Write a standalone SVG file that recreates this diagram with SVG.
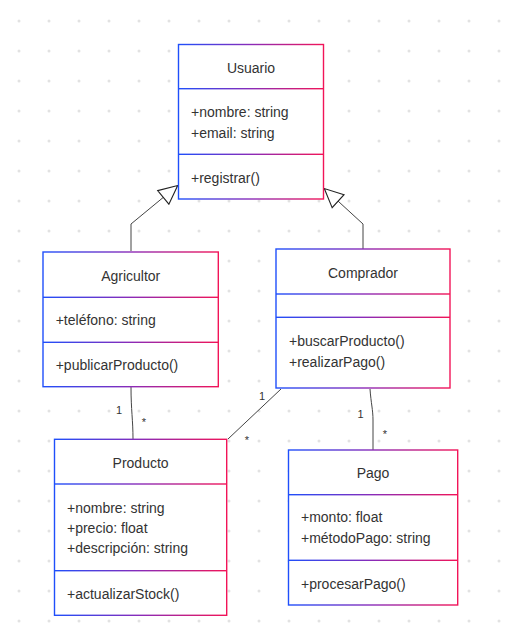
<svg xmlns="http://www.w3.org/2000/svg" width="515" height="643" viewBox="0 0 515 643">
  <defs>
    <pattern id="dots" width="30" height="30" patternUnits="userSpaceOnUse">
      <circle cx="19" cy="21" r="1.5" fill="#e2e2e2"/>
    </pattern>
    <linearGradient id="grad" x1="0" y1="0" x2="1" y2="0">
      <stop offset="0" stop-color="#1f4ffb"/>
      <stop offset="0.5" stop-color="#8a2bb8"/>
      <stop offset="1" stop-color="#f21458"/>
    </linearGradient>
    <marker id="gen" markerUnits="userSpaceOnUse" markerWidth="22" markerHeight="22" refX="17" refY="8" orient="auto" viewBox="-1 -1 20 18">
      <path d="M0,0 L17,8 L0,16 Z" fill="#ffffff" stroke="#222" stroke-width="1"/>
    </marker>
    <style>
      .box { fill: #ffffff; stroke: url(#grad); stroke-width: 1.4; }
      .div { fill: url(#grad); }
      .t { font-family: "Liberation Sans", Arial, sans-serif; font-size: 14px; fill: #333; }
      .title { text-anchor: middle; }
      .m { font-family: "Liberation Sans", Arial, sans-serif; font-size: 11px; fill: #333; text-anchor: middle; }
      .edge { fill: none; stroke: #444; stroke-width: 1; }
    </style>
  </defs>
  <rect x="0" y="0" width="515" height="643" fill="#ffffff"/>
  <rect x="0" y="0" width="515" height="643" fill="url(#dots)"/>

  <g id="connectors">
    <path class="edge" d="M131,251 L131,224 L177.7,185.5" marker-end="url(#gen)"/>
    <path class="edge" d="M363,249 L363,224 L324.3,188.5" marker-end="url(#gen)"/>
    <path class="edge" d="M131,387 C131,410 133,420 133,439"/>
    <path class="edge" d="M281,389 L228,439"/>
    <path class="edge" d="M370,389 C371,403 373,410 373,420 L373,450"/>
    <text class="m" x="119" y="414">1</text>
    <text class="m" x="144" y="426">*</text>
    <text class="m" x="262" y="400">1</text>
    <text class="m" x="247" y="444">*</text>
    <text class="m" x="360.5" y="418">1</text>
    <text class="m" x="385" y="438">*</text>
  </g>

  <g id="usuario">
    <rect class="box" x="178.5" y="44.5" width="145" height="154.5"/>
    <rect class="div" x="178.5" y="88" width="145" height="1.4"/>
    <rect class="div" x="178.5" y="153.6" width="145" height="1.4"/>
    <text class="t title" x="251" y="72.5">Usuario</text>
    <text class="t" x="191" y="117">+nombre: string</text>
    <text class="t" x="191" y="137.5">+email: string</text>
    <text class="t" x="191" y="183">+registrar()</text>
  </g>

  <g id="agricultor">
    <rect class="box" x="43" y="252" width="175.3" height="134.7"/>
    <rect class="div" x="43" y="296.6" width="175.3" height="1.4"/>
    <rect class="div" x="43" y="341.6" width="175.3" height="1.4"/>
    <text class="t title" x="130.7" y="280.5">Agricultor</text>
    <text class="t" x="55.7" y="325">+teléfono: string</text>
    <text class="t" x="55.7" y="369.5">+publicarProducto()</text>
  </g>

  <g id="comprador">
    <rect class="box" x="276" y="249" width="174" height="139"/>
    <rect class="div" x="276" y="293.3" width="174" height="1.4"/>
    <rect class="div" x="276" y="316.6" width="174" height="1.4"/>
    <text class="t title" x="363" y="277.5">Comprador</text>
    <text class="t" x="289" y="345.5">+buscarProducto()</text>
    <text class="t" x="289" y="366.5">+realizarPago()</text>
  </g>

  <g id="producto">
    <rect class="box" x="54.5" y="439.3" width="172.2" height="176"/>
    <rect class="div" x="54.5" y="483.3" width="172.2" height="1.4"/>
    <rect class="div" x="54.5" y="570" width="172.2" height="1.4"/>
    <text class="t title" x="140.6" y="467.5">Producto</text>
    <text class="t" x="67" y="512.5">+nombre: string</text>
    <text class="t" x="67" y="532.7">+precio: float</text>
    <text class="t" x="67" y="553.3">+descripción: string</text>
    <text class="t" x="67" y="598.5">+actualizarStock()</text>
  </g>

  <g id="pago">
    <rect class="box" x="288.5" y="450" width="169.2" height="155"/>
    <rect class="div" x="288.5" y="494" width="169.2" height="1.4"/>
    <rect class="div" x="288.5" y="559.6" width="169.2" height="1.4"/>
    <text class="t title" x="373" y="477.5">Pago</text>
    <text class="t" x="301" y="522">+monto: float</text>
    <text class="t" x="301" y="542.7">+métodoPago: string</text>
    <text class="t" x="301" y="588.5">+procesarPago()</text>
  </g>
</svg>
